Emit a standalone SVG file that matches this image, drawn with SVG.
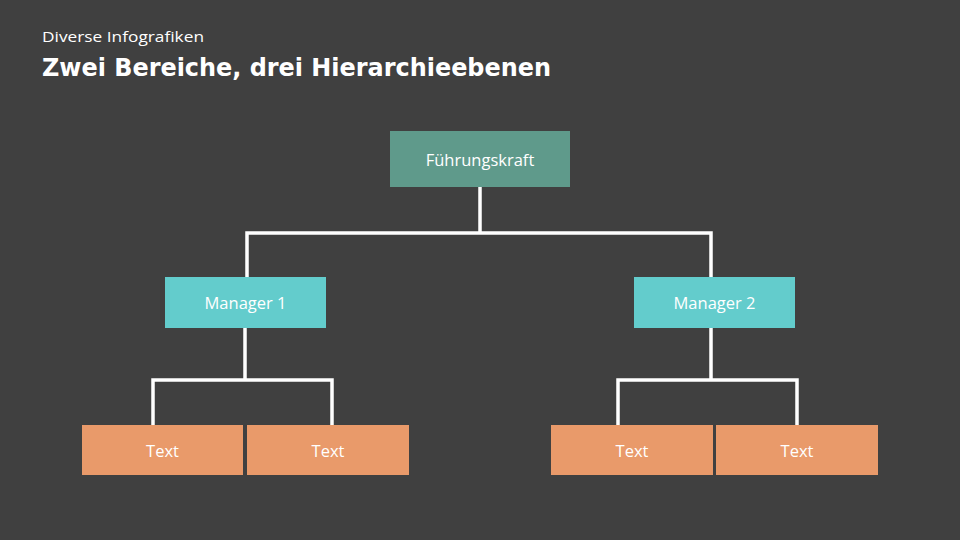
<svg xmlns="http://www.w3.org/2000/svg" width="960" height="540" viewBox="0 0 960 540">
<style>
.t{font-family:"Open Sans","Liberation Sans",sans-serif;fill:#fff;text-anchor:middle;dominant-baseline:central;font-size:16.5px}
.c{fill:none;stroke:#fff;stroke-width:3.5}
</style>
<rect width="960" height="540" fill="#404040"/>
<text x="42" y="42" font-family="'Open Sans','Liberation Sans',sans-serif" font-size="15" fill="#fff" textLength="162" lengthAdjust="spacingAndGlyphs">Diverse Infografiken</text>
<text x="42" y="76" font-family="'DejaVu Sans','Liberation Sans',sans-serif" font-size="25" font-weight="bold" fill="#fff" textLength="509" lengthAdjust="spacingAndGlyphs">Zwei Bereiche, drei Hierarchieebenen</text>
<g id="connectors">
<path class="c" d="M480 187V233M247 277V233H711V277"/>
<path class="c" d="M245 328V380M153 425V380H332V425"/>
<path class="c" d="M711 328V380M618 425V380H797V425"/>
</g>
<g id="fuehrung"><rect x="390" y="131" width="180" height="56" fill="#5f9a8b"/><text class="t" x="480" y="159">Führungskraft</text></g>
<g id="manager1"><rect x="165" y="277" width="161" height="51" fill="#63cccc"/><text class="t" x="245.5" y="302.5">Manager 1</text></g>
<g id="manager2"><rect x="634" y="277" width="161" height="51" fill="#63cccc"/><text class="t" x="714.5" y="302.5">Manager 2</text></g>
<g id="text1"><rect x="82" y="425" width="161" height="50" fill="#e99a6a"/><text class="t" x="162.5" y="450">Text</text></g>
<g id="text2"><rect x="247" y="425" width="162" height="50" fill="#e99a6a"/><text class="t" x="328" y="450">Text</text></g>
<g id="text3"><rect x="551" y="425" width="162" height="50" fill="#e99a6a"/><text class="t" x="632" y="450">Text</text></g>
<g id="text4"><rect x="716" y="425" width="162" height="50" fill="#e99a6a"/><text class="t" x="797" y="450">Text</text></g>
</svg>
